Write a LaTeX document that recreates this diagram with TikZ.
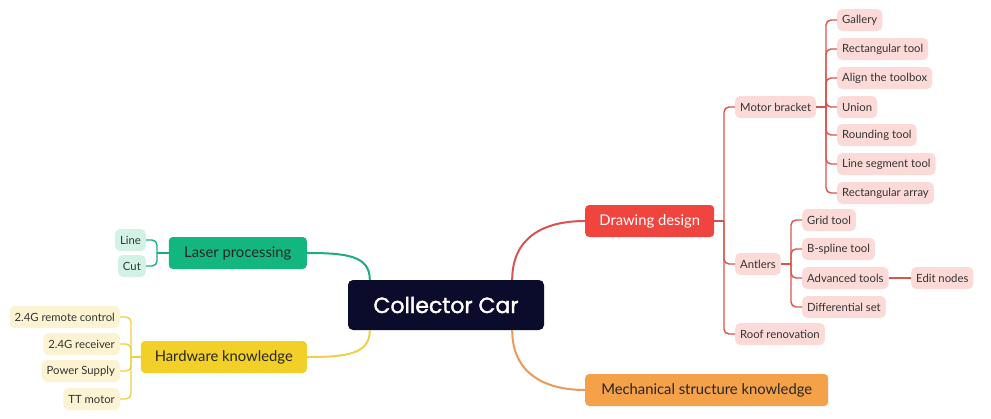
\documentclass[tikz,border=0pt]{standalone}
\usepackage{fontspec}
\setmainfont{Lato}
\newfontfamily\popfont[FakeBold=1.6]{Poppins}
\usetikzlibrary{calc}
\definecolor{navy}{HTML}{0B0B2B}
\definecolor{ddred}{HTML}{F0453E}
\definecolor{ddline}{HTML}{D9534F}
\definecolor{leafred}{HTML}{FCDAD8}
\definecolor{lgreen}{HTML}{13B67F}
\definecolor{lgline}{HTML}{1AAE7E}
\definecolor{leafgreen}{HTML}{D3F2E6}
\definecolor{lyellow}{HTML}{F2D027}
\definecolor{lyline}{HTML}{EFD04A}
\definecolor{leafyellow}{HTML}{FCF3D2}
\definecolor{morange}{HTML}{F5A14A}
\definecolor{moline}{HTML}{E89A5A}
\definecolor{txt}{HTML}{333333}
\begin{document}
\begin{tikzpicture}[x=1pt,y=-1pt,
  topic/.style={rounded corners=4pt, minimum height=32pt, inner xsep=8pt, font=\fontsize{14.8}{16}\selectfont},
  leaf/.style={rounded corners=5pt, minimum height=22pt, inner xsep=5pt, inner ysep=2pt, font=\fontsize{11.3}{13}\selectfont, text=txt},
  rleaf/.style={leaf, fill=leafred, anchor=west},
  gleaf/.style={leaf, fill=leafgreen, anchor=east},
  yleaf/.style={leaf, fill=leafyellow, anchor=east},
  rline/.style={draw=ddline, line width=1.4pt, rounded corners=5pt},
  gline/.style={draw=lgline, line width=1.4pt, rounded corners=5pt},
  yline/.style={draw=lyline, line width=1.4pt, rounded corners=5pt},
]
\useasboundingbox (0,0) rectangle (991,418);

% central
\node[fill=navy, text=white, rounded corners=5pt, minimum width=196pt, minimum height=50pt,
      font=\popfont\fontsize{22}{24}\selectfont] (c) at (446,305) {Collector Car};

% main topics
\node[topic, fill=ddred, text=white, minimum width=129pt, anchor=west] (dd) at (585,221) {Drawing design};
\node[topic, fill=morange, text=black!85, minimum width=243pt, anchor=west] (mech) at (585,390) {Mechanical structure knowledge};
\node[topic, fill=lgreen, text=black!85, minimum width=138pt, anchor=east] (laser) at (307,253) {Laser processing};
\node[topic, fill=lyellow, text=black!85, minimum width=166pt, anchor=east] (hw) at (307,357) {Hardware knowledge};

% main connectors
\draw[ddline, line width=2pt] ([xshift=-32pt]c.north east) .. controls +(0,-42) and +(-42,0) .. (dd.west);
\draw[moline, line width=2pt] ([xshift=-32pt]c.south east) .. controls +(0,42) and +(-42,0) .. (mech.west);
\draw[lgline, line width=2pt] ([xshift=22pt]c.north west) .. controls +(0,-24) and +(40,0) .. (laser.east);
\draw[lyline, line width=2pt] ([xshift=22pt]c.south west) .. controls +(0,24) and +(40,0) .. (hw.east);

% drawing design subtree
\node[rleaf] (mb) at (735,107) {Motor bracket};
\node[rleaf] (ant) at (735,264) {Antlers};
\node[rleaf] (roof) at (735,334) {Roof renovation};
\coordinate (ddj) at (724,221);
\draw[rline] (dd.east) -- (ddj);
\draw[rline] (ddj) |- (mb.west);
\draw[rline] (ddj) |- (ant.west);
\draw[rline] (ddj) |- (roof.west);

\node[rleaf] (gal) at (837,20) {Gallery};
\node[rleaf] (rect) at (837,49) {Rectangular tool};
\node[rleaf] (align) at (837,78) {Align the toolbox};
\node[rleaf] (union) at (837,107) {Union};
\node[rleaf] (round) at (837,135) {Rounding tool};
\node[rleaf] (lseg) at (837,164) {Line segment tool};
\node[rleaf] (rarr) at (837,193) {Rectangular array};
\coordinate (mbj) at (826,107);
\draw[rline] (mb.east) -- (mbj);
\foreach \n in {gal,rect,align,union,round,lseg,rarr} \draw[rline] (mbj) |- (\n.west);

\node[rleaf] (grid) at (802,220) {Grid tool};
\node[rleaf] (bsp) at (802,249) {B-spline tool};
\node[rleaf] (adv) at (802,278) {Advanced tools};
\node[rleaf] (diff) at (802,307) {Differential set};
\node[rleaf] (edit) at (911,278) {Edit nodes};
\coordinate (antj) at (791,264);
\draw[rline] (ant.east) -- (antj);
\foreach \n in {grid,bsp,adv,diff} \draw[rline] (antj) |- (\n.west);
\draw[rline] (adv.east) -- (edit.west);

% laser subtree
\node[gleaf] (line) at (146,240) {Line};
\node[gleaf] (cut) at (146,266) {Cut};
\coordinate (lj) at (157,253);
\draw[gline] (laser.west) -- (lj);
\draw[gline] (lj) |- (line.east);
\draw[gline] (lj) |- (cut.east);

% hardware subtree
\node[yleaf] (rc) at (120,317) {2.4G remote control};
\node[yleaf] (rx) at (120,344) {2.4G receiver};
\node[yleaf] (ps) at (120,371) {Power Supply};
\node[yleaf] (tt) at (120,399) {TT motor};
\coordinate (hj) at (131,357);
\draw[yline] (hw.west) -- (hj);
\foreach \n in {rc,rx,ps,tt} \draw[yline] (hj) |- (\n.east);
\end{tikzpicture}
\end{document}
